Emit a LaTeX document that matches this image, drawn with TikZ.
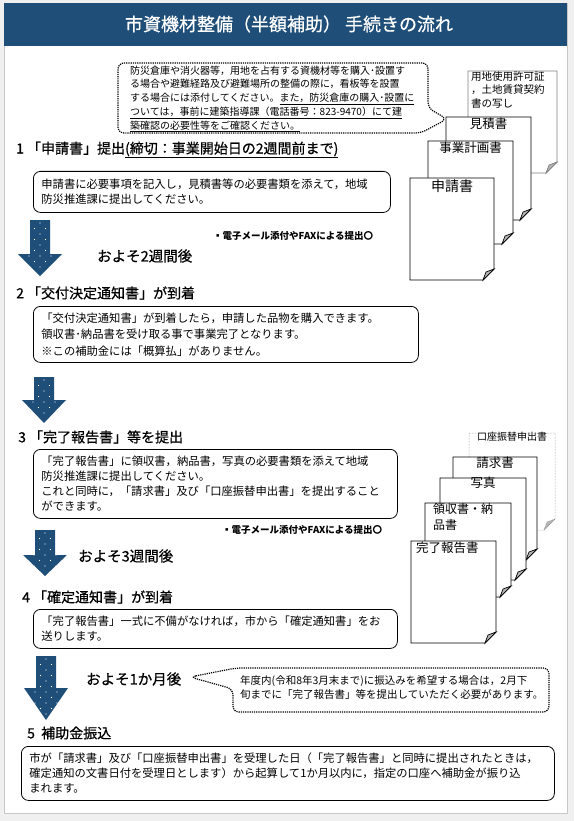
\documentclass[tikz,border=0pt]{standalone}
\usepackage{fontspec}
\setmainfont{Noto Sans CJK JP}
\newfontfamily\headfont{Noto Sans CJK JP}[FakeBold=0.7]

\definecolor{barblue}{HTML}{1F4E79}
\definecolor{foldgrey}{HTML}{B4B4B4}
\definecolor{pagegrey}{HTML}{F0F0F0}
\definecolor{edgegrey}{HTML}{C8C8C8}

\begin{document}
\begin{tikzpicture}[x=1pt, y=-1pt,
	headtxt/.style={anchor=west, inner sep=0pt, font=\headfont\fontsize{14}{16}\selectfont},
	waittxt/.style={anchor=west, inner sep=0pt, font=\headfont\fontsize{14.5}{16}\selectfont},
	flowbox/.style={draw, rounded corners=7pt, line width=0.8pt, anchor=north west, align=left, inner xsep=8pt, inner ysep=0pt, font=\fontsize{11.3}{15}\selectfont},
	mailtxt/.style={anchor=west, inner sep=0pt, font=\bfseries\fontsize{9.5}{11}\selectfont},
	callline/.style={line width=1.2pt, dash pattern=on 1.2pt off 1pt, rounded corners=6pt},
	calltxt/.style={anchor=north west, inner sep=0pt, align=left},
	frontsheet/.style={draw=black, line width=0.7pt},
	backsheet/.style={draw=gray, line width=0.7pt},
	dotsheet/.style={draw=gray, line width=0.5pt, densely dotted},
	sheettxt/.style={anchor=north, inner sep=0pt, font=\fontsize{12.5}{14}\selectfont}
]
\useasboundingbox (0,0) rectangle (574,821);
% page and title bar
\fill[pagegrey] (0,0) rectangle (574,821);
\filldraw[fill=white, draw=edgegrey] (4,3) rectangle (567,813);
\fill[barblue] (4,3) rectangle (567,46);
\node[text=white, inner sep=0pt, font=\headfont\fontsize{18}{20}\selectfont] (title) at (289,24) {市資機材整備（半額補助） 手続きの流れ};

% callouts
\draw[callline, fill=white] (118,63) -- (428,63) -- (428,108) -- (447,119) -- (421,133) -- (118,133) -- cycle;
\node[calltxt, font=\fontsize{10}{13.8}\selectfont] (note1) at (130,65.5) {防災倉庫や消火器等，用地を占有する資機材等を購入･設置す\\る場合や避難経路及び避難場所の整備の際に，看板等を設置\\する場合には添付してください。\underline{また，防災倉庫の購入･設置に}\\\underline{ついては，事前に建築指導課（電話番号：823-9470）にて建}\\\underline{築確認の必要性等をご確認ください。}};
\draw[callline, fill=white] (190,677) -- (236,668) -- (549,668) -- (549,712) -- (233,712) -- (233,689) -- cycle;
\node[calltxt, font=\fontsize{10.5}{14}\selectfont] (note2) at (240,675) {年度内(令和8年3月末まで)に振込みを希望する場合は，2月下\\旬までに「完了報告書」等を提出していただく必要があります。};

% document sheets
\foreach \l/\t/\r/\b/\sty in {468/71/557/173/backsheet, 446/117/531/220/frontsheet, 428/141/513/244/frontsheet, 410/178/494/280/frontsheet,
	469/433/555/530/dotsheet, 453/457/537/560/frontsheet, 440/478/526/580/frontsheet, 425/503/511/597/frontsheet, 411/541/496/643/frontsheet} {
	\filldraw[\sty, fill=white] (\l,\t) -- (\r,\t) -- (\r,\b-11) -- (\r-11,\b) -- (\l,\b) -- cycle;
	\filldraw[\sty, fill=foldgrey] (\r,\b-11) -- (\r-11,\b) -- (\r-8,\b-8) -- cycle;
}
\node[calltxt, font=\fontsize{10.5}{13.5}\selectfont] (permit) at (471,71) {用地使用許可証\\，土地賃貸契約\\書の写し};
\node[sheettxt] (estimate) at (488.5,118) {見積書};
\node[sheettxt] (plan) at (470.5,142) {事業計画書};
\node[sheettxt, font=\fontsize{14}{16}\selectfont] (application) at (452,180) {申請書};
\node[sheettxt, font=\fontsize{10}{12}\selectfont] (transfer) at (512,432) {口座振替申出書};
\node[sheettxt] (invoice) at (495,457) {請求書};
\node[sheettxt] (photo) at (483,477) {写真};
\node[calltxt, font=\fontsize{12}{16}\selectfont] (receipt) at (433,503) {領収書・納\\品書};
\node[calltxt, font=\fontsize{12.5}{14}\selectfont] (report) at (416,542) {完了報告書};

% block arrows
\foreach \cx/\ty/\hy/\by in {40/220/254/276, 44/377/400/423, 45/530/555/576, 46/656/688/720} {
	\fill[barblue] (\cx-10,\ty) -- (\cx+10,\ty) -- (\cx+10,\hy) -- (\cx+22,\hy) -- (\cx,\by) -- (\cx-22,\hy) -- (\cx-10,\hy) -- cycle;
	\begin{scope}
		\clip (\cx-10,\ty) -- (\cx+10,\ty) -- (\cx+10,\hy) -- (\cx+22,\hy) -- (\cx,\by) -- (\cx-22,\hy) -- (\cx-10,\hy) -- cycle;
		\foreach \r in {0,...,11} {
			\foreach \c in {-2,...,2} {
				\pgfmathsetmacro{\dx}{\cx+11*\c+5.5*mod(\r,2)}
				\pgfmathsetmacro{\dy}{\ty+3+5.5*\r}
				\fill[white] (\dx,\dy) circle (0.55);
			}
		}
	\end{scope}
}

% steps
\node[headtxt] (step1) at (16,150) {1 「申請書」提出\underline{(締切：事業開始日の2週間前まで)}};
\node[flowbox, text width=341pt, minimum height=41pt] (box1) at (33,171) {申請書に必要事項を記入し，見積書等の必要書類を添えて，地域\\防災推進課に提出してください。};
\node[mailtxt] (mail1) at (213,236) {▪電子メール添付やFAXによる提出〇};
\node[waittxt] (wait1) at (97,256) {およそ2週間後};

\node[headtxt] (step2) at (16,293) {2 「交付決定通知書」が到着};
\node[flowbox, text width=369pt, minimum height=56pt, font=\fontsize{11.3}{16.5}\selectfont] (box2) at (33,306) {「交付決定通知書」が到着したら，申請した品物を購入できます。\\領収書･納品書を受け取る事で事業完了となります。\\※この補助金には「概算払」がありません。};

\node[headtxt] (step3) at (18,437) {3 「完了報告書」等を提出};
\node[flowbox, text width=348pt, minimum height=69pt] (box3) at (33,449) {「完了報告書」に領収書，納品書，写真の必要書類を添えて地域\\防災推進課に提出してください。\\これと同時に，「請求書」及び「口座振替申出書」を提出すること\\ができます。};
\node[mailtxt] (mail2) at (222,530) {▪電子メール添付やFAXによる提出〇};
\node[waittxt] (wait2) at (78,556) {およそ3週間後};

\node[headtxt] (step4) at (22,597) {4 「確定通知書」が到着};
\node[flowbox, text width=348pt, minimum height=39pt] (box4) at (33,609) {「完了報告書」一式に不備がなければ，市から「確定通知書」をお\\送りします。};
\node[waittxt] (wait3) at (86,679) {およそ1か月後};

\node[headtxt] (step5) at (27,733) {5\ \ 補助金振込};
\node[flowbox, text width=517pt, minimum height=54pt] (box5) at (21,746) {市が「請求書」及び「口座振替申出書」を受理した日（「完了報告書」と同時に提出されたときは，\\確定通知の文書日付を受理日とします）から起算して1か月以内に，指定の口座へ補助金が振り込\\まれます。};
\end{tikzpicture}
\end{document}
